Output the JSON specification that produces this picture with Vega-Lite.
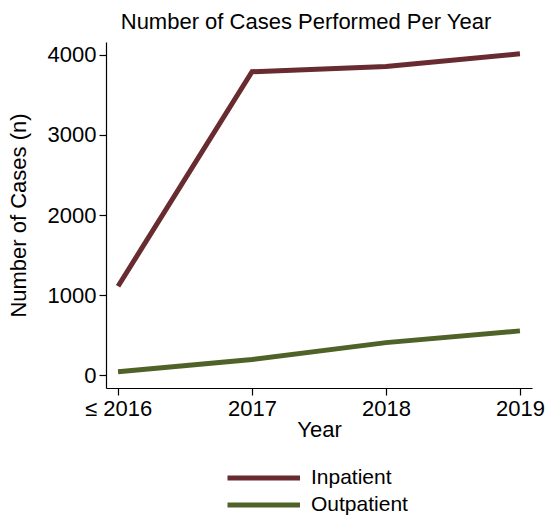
{
  "$schema": "https://vega.github.io/schema/vega-lite/v6.json",
  "width": 426,
  "height": 346,
  "autosize": "none",
  "padding": {"left": 106, "top": 42, "right": 16, "bottom": 129},
  "background": "white",
  "config": {
    "font": "Liberation Sans",
    "view": {"stroke": null},
    "axis": {"grid": false, "domainColor": "#000000", "tickColor": "#000000", "labelColor": "#000000", "titleColor": "#000000", "labelFont": "Liberation Sans", "titleFont": "Liberation Sans", "titleFontWeight": "normal", "labelFontSize": 22, "titleFontSize": 22, "tickSize": 7, "domainWidth": 1.2, "tickWidth": 1.2}
  },
  "title": {"text": "Number of Cases Performed Per Year", "fontSize": 22, "fontWeight": "normal", "font": "Liberation Sans", "color": "#000000", "anchor": "middle", "offset": 8, "dx": -13},
  "data": {"values": [
    {"year": "≤ 2016", "type": "Inpatient", "cases": 1110},
    {"year": "2017", "type": "Inpatient", "cases": 3790},
    {"year": "2018", "type": "Inpatient", "cases": 3855},
    {"year": "2019", "type": "Inpatient", "cases": 4015},
    {"year": "≤ 2016", "type": "Outpatient", "cases": 40},
    {"year": "2017", "type": "Outpatient", "cases": 195},
    {"year": "2018", "type": "Outpatient", "cases": 405},
    {"year": "2019", "type": "Outpatient", "cases": 552}
  ]},
  "mark": {"type": "line", "strokeWidth": 5},
  "encoding": {
    "x": {"field": "year", "type": "ordinal", "sort": ["≤ 2016", "2017", "2018", "2019"],
      "scale": {"type": "point", "padding": 0.09},
      "axis": {"title": "Year", "labelAngle": 0, "labelPadding": 3, "titlePadding": 0}},
    "y": {"field": "cases", "type": "quantitative",
      "scale": {"domain": [-162, 4162], "nice": false, "zero": false},
      "axis": {"title": "Number of Cases (n)", "values": [0, 1000, 2000, 3000, 4000], "format": "d", "labelPadding": 3, "titlePadding": 17}},
    "color": {"field": "type", "type": "nominal",
      "scale": {"domain": ["Inpatient", "Outpatient"], "range": ["#672b30", "#4f6228"]},
      "legend": {"title": null, "orient": "none", "legendX": 119, "legendY": 419, "direction": "vertical", "symbolType": "M-1,0H4", "symbolSize": 841, "symbolStrokeWidth": 5, "labelFontSize": 21, "labelFont": "Liberation Sans", "labelColor": "#000000", "rowPadding": 0, "labelOffset": 52}}
  }
}
